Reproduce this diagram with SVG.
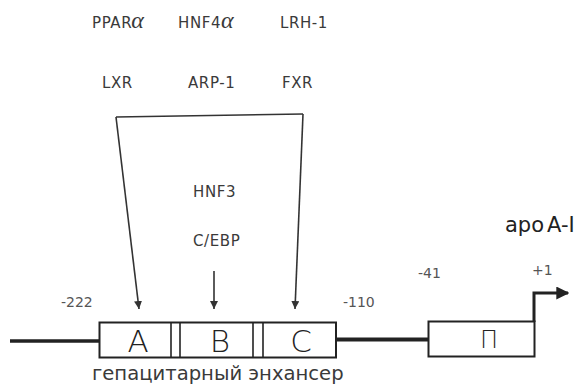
<svg xmlns="http://www.w3.org/2000/svg" width="579" height="386" viewBox="0 0 579 386">
<defs>
<style>
.t{font-family:"DejaVu Sans","Liberation Sans",sans-serif;fill:#3a3a3a;font-size:15px;letter-spacing:0.6px}
.n{font-family:"DejaVu Sans","Liberation Sans",sans-serif;fill:#555;font-size:14px}
.g{font-family:"Liberation Serif","DejaVu Serif",serif;font-style:italic;font-size:24px;fill:#3a3a3a}
.big{font-family:"DejaVu Sans","Liberation Sans",sans-serif;fill:#222;font-size:31px;font-weight:200;text-anchor:middle}
.box{fill:#fff;stroke:#222;stroke-width:2}
.ln{stroke:#333;stroke-width:1.6;fill:none}
</style>
<marker id="ah" viewBox="0 0 10 10" refX="10" refY="5" markerWidth="8" markerHeight="8" markerUnits="userSpaceOnUse" orient="auto">
<path d="M0,0 L10,5 L0,10 z" fill="#333"/>
</marker>
<marker id="ah2" viewBox="0 0 10 10" refX="9" refY="5" markerWidth="13" markerHeight="13" markerUnits="userSpaceOnUse" orient="auto">
<path d="M0,0 L10,5 L0,10 z" fill="#222"/>
</marker>
</defs>
<rect width="579" height="386" fill="#fff"/>
<g id="factors">
<text class="t" x="92" y="28">PPAR<tspan class="g" dx="-1" letter-spacing="0">α</tspan></text>
<text class="t" x="178" y="28">HNF4<tspan class="g" letter-spacing="0">α</tspan></text>
<text class="t" x="280" y="28">LRH-1</text>
<text class="t" x="102" y="88">LXR</text>
<text class="t" x="188" y="88">ARP-1</text>
<text class="t" x="282" y="88">FXR</text>
<text class="t" x="193" y="197">HNF3</text>
<text class="t" x="193" y="246">C/EBP</text>
</g>
<g id="connectors">
<line class="ln" x1="116" y1="117" x2="303" y2="114"/>
<line class="ln" x1="116" y1="117" x2="139" y2="309" marker-end="url(#ah)"/>
<line class="ln" x1="303" y1="114" x2="295" y2="309" marker-end="url(#ah)"/>
<line class="ln" x1="214" y1="271" x2="214" y2="309" marker-end="url(#ah)"/>
<line x1="10" y1="341" x2="100" y2="341" stroke="#222" stroke-width="3.5"/>
<line x1="336" y1="339.5" x2="428" y2="339.5" stroke="#222" stroke-width="4"/>
<polyline points="534,322 534,293 568,293" fill="none" stroke="#222" stroke-width="3" marker-end="url(#ah2)"/>
</g>
<g id="enhancer">
<rect class="box" x="99.5" y="322.5" width="236.5" height="35"/>
<line x1="171" y1="322.5" x2="171" y2="357.5" stroke="#222" stroke-width="1.6"/>
<line x1="180" y1="322.5" x2="180" y2="357.5" stroke="#222" stroke-width="1.6"/>
<line x1="253" y1="322.5" x2="253" y2="357.5" stroke="#222" stroke-width="1.6"/>
<line x1="263" y1="322.5" x2="263" y2="357.5" stroke="#222" stroke-width="1.6"/>
<text class="big" x="138" y="352">A</text>
<text class="big" x="220" y="352">B</text>
<text class="big" x="301" y="352">C</text>
<text class="t" x="92" y="380" style="font-size:19.6px;letter-spacing:0">гепацитарный энхансер</text>
</g>
<g id="promoter">
<rect class="box" x="428.5" y="321.5" width="106" height="35"/>
<text class="big" x="489" y="348" style="font-size:24px;fill:#222">П</text>
</g>
<g id="labels">
<text class="n" x="61" y="307">-222</text>
<text class="n" x="343" y="307">-110</text>
<text class="n" x="418" y="278">-41</text>
<text class="n" x="532" y="275">+1</text>
<text class="t" x="505" y="232" style="font-size:21px;letter-spacing:0;fill:#222">apo<tspan dx="3">A-I</tspan></text>
</g>
</svg>
